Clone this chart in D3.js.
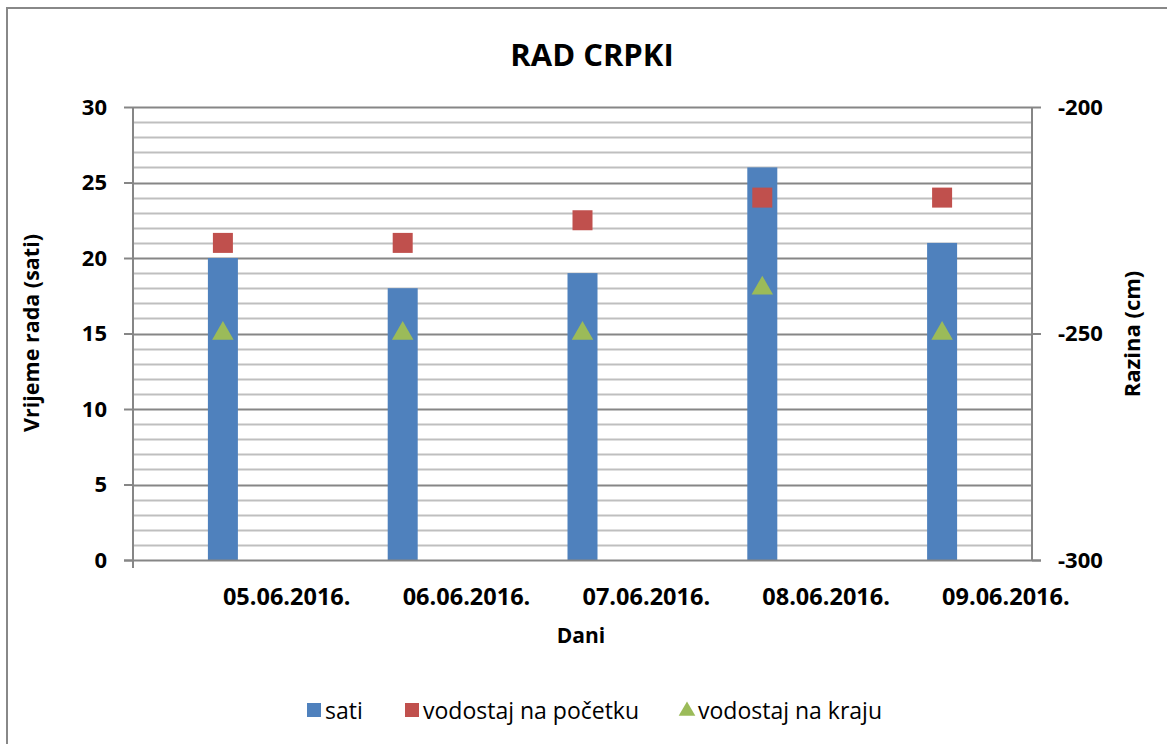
<!DOCTYPE html>
<html>
<head>
<meta charset="utf-8">
<script src="https://cdn.jsdelivr.net/npm/d3@7"></script>
<style>
  html, body { margin: 0; padding: 0; background: #fff; }
  svg { display: block; }
  text { font-family: "Open Sans", "Noto Sans", sans-serif; fill: #000; }
</style>
</head>
<body>
<svg id="chart" width="1167" height="744"></svg>
<script>
// Pump operation per day
const days = ["05.06.2016.", "06.06.2016.", "07.06.2016.", "08.06.2016.", "09.06.2016."];
const hours = [20, 18, 19, 26, 21];              // sati (left axis)
const levelStart = [-230, -230, -225, -220, -220]; // vodostaj na početku (right axis, cm)
const levelEnd = [-250, -250, -250, -240, -250];   // vodostaj na kraju (right axis, cm)
const leftTicks = [0, 5, 10, 15, 20, 25, 30];
const rightTicks = [-300, -250, -200];

const C = { blue: "#4F81BD", red: "#C0504D", green: "#9BBB59",
            major: "#868686", minor: "#BFBFBF" };

const svg = d3.select("#chart");
const plot = { left: 133, right: 1032, top: 107, bottom: 560 };

// outer chart frame
svg.append("rect").attr("x", 7).attr("y", 8).attr("width", 1170).attr("height", 760)
  .attr("fill", "#fff").attr("stroke", "#888").attr("stroke-width", 2);

const x = d3.scaleBand().domain(days).range([plot.left, plot.right]);
const yL = d3.scaleLinear().domain([0, 30]).range([plot.bottom, plot.top]);
const yR = d3.scaleLinear().domain([-300, -200]).range([plot.bottom, plot.top]);

// minor gridlines every hour, major every 5
const g = svg.append("g");
g.selectAll("line.minor").data(d3.range(1, 30).filter(v => v % 5 !== 0)).join("line")
  .attr("x1", plot.left).attr("x2", plot.right)
  .attr("y1", d => Math.round(yL(d)) + 0.5).attr("y2", d => Math.round(yL(d)) + 0.5)
  .attr("stroke", C.minor).attr("stroke-width", 2);
g.selectAll("line.major").data(leftTicks.filter(v => v > 0)).join("line")
  .attr("x1", plot.left).attr("x2", plot.right)
  .attr("y1", d => Math.round(yL(d)) + 0.5).attr("y2", d => Math.round(yL(d)) + 0.5)
  .attr("stroke", C.major).attr("stroke-width", 2);

// bars
const bw = 30;
svg.append("g").selectAll("rect").data(days).join("rect")
  .attr("x", d => x(d) + x.bandwidth() / 2 - bw / 2)
  .attr("y", (d, i) => yL(hours[i]))
  .attr("width", bw)
  .attr("height", (d, i) => yL(0) - yL(hours[i]))
  .attr("fill", C.blue);

// axes
const plain = d => String(d);
const leftAxis = d3.axisLeft(yL).tickValues(leftTicks).tickFormat(plain).tickSize(9).tickPadding(17);
const la = svg.append("g").attr("transform", `translate(${plot.left},0)`).call(leftAxis);
const rightAxis = d3.axisRight(yR).tickValues(rightTicks).tickFormat(plain).tickSize(9).tickPadding(17);
const ra = svg.append("g").attr("transform", `translate(${plot.right},0)`).call(rightAxis);
[la, ra].forEach(a => {
  a.select(".domain").attr("stroke", C.major).attr("stroke-width", 2)
    .attr("d", `M0,${plot.top}V${plot.bottom}`);
  a.selectAll(".tick line").attr("stroke", C.major).attr("stroke-width", 2);
  a.selectAll(".tick text").attr("font-size", 22).attr("font-weight", 700)
    .attr("font-family", "'Open Sans', sans-serif").attr("fill", "#000");
});

// category axis
svg.append("line").attr("x1", plot.left - 9).attr("x2", plot.right + 9)
  .attr("y1", plot.bottom + 0.5).attr("y2", plot.bottom + 0.5)
  .attr("stroke", C.major).attr("stroke-width", 2);
svg.append("line").attr("x1", plot.left).attr("x2", plot.left)
  .attr("y1", plot.bottom).attr("y2", plot.bottom + 8)
  .attr("stroke", C.major).attr("stroke-width", 2);
svg.append("g").selectAll("text").data(days).join("text")
  .attr("x", d => x(d) + x.bandwidth() / 2)
  .attr("y", 605)
  .attr("font-size", 23.5).attr("font-weight", 700)
  .text(d => d);

// markers
svg.append("g").selectAll("rect").data(levelStart).join("rect")
  .attr("x", (d, i) => x(days[i]) + x.bandwidth() / 2 - 10)
  .attr("y", d => yR(d) - 10)
  .attr("width", 20).attr("height", 20)
  .attr("fill", C.red);
const tri = d3.symbol().type(d3.symbolTriangle).size(200);
svg.append("g").selectAll("path").data(levelEnd).join("path")
  .attr("transform", (d, i) => `translate(${x(days[i]) + x.bandwidth() / 2},${yR(d)})`)
  .attr("d", tri)
  .attr("fill", C.green);

// titles
svg.append("text").attr("x", 592).attr("y", 66).attr("text-anchor", "middle")
  .attr("font-size", 31).attr("font-weight", 700).text("RAD CRPKI");
svg.append("text").attr("transform", "translate(39,333) rotate(-90)")
  .attr("text-anchor", "middle").attr("font-size", 21.5).attr("font-weight", 700)
  .text("Vrijeme rada (sati)");
svg.append("text").attr("transform", "translate(1140,334) rotate(-90)")
  .attr("text-anchor", "middle").attr("font-size", 22).attr("font-weight", 700)
  .text("Razina (cm)");
svg.append("text").attr("x", 581).attr("y", 643).attr("text-anchor", "middle")
  .attr("font-size", 21).attr("font-weight", 700).text("Dani");

// legend
const legend = [
  { label: "sati", color: C.blue, shape: "square", x: 307 },
  { label: "vodostaj na početku", color: C.red, shape: "square", x: 405 },
  { label: "vodostaj na kraju", color: C.green, shape: "triangle", x: 680 }
];
const lg = svg.append("g");
legend.forEach(l => {
  if (l.shape === "square") {
    lg.append("rect").attr("x", l.x).attr("y", 703).attr("width", 14).attr("height", 14).attr("fill", l.color);
  } else {
    lg.append("path").attr("transform", `translate(${l.x + 7},711)`)
      .attr("d", d3.symbol().type(d3.symbolTriangle).size(120)).attr("fill", l.color);
  }
  lg.append("text").attr("x", l.x + 18).attr("y", 719).attr("font-size", 23).text(l.label);
});
</script>
</body>
</html>
